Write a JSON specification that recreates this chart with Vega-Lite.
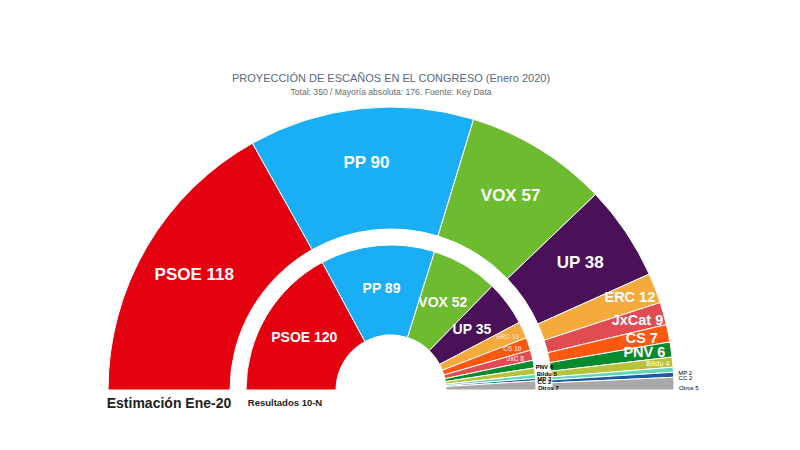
{
  "$schema": "https://vega.github.io/schema/vega-lite/v6.json",
  "width": 782,
  "height": 120,
  "autosize": "none",
  "padding": {"left": 0, "right": 18, "top": 330, "bottom": 0},
  "background": "white",
  "config": {"view": {"stroke": null}, "font": "Liberation Sans"},
  "title": {
    "text": "PROYECCIÓN DE ESCAÑOS EN EL CONGRESO (Enero 2020)",
    "subtitle": "Total: 350 / Mayoría absoluta: 176. Fuente: Key Data",
    "fontSize": 11,
    "fontWeight": "normal",
    "color": "#56697c",
    "subtitleFontSize": 8.6,
    "subtitleColor": "#6a6a6a",
    "subtitlePadding": 4,
    "anchor": "middle",
    "frame": "group",
    "offset": 8
  },
  "data": {
    "values": [
      {"ring": "outer", "idx": 1, "party": "PSOE", "name": "PSOE", "seats": 118},
      {"ring": "outer", "idx": 2, "party": "PP", "name": "PP", "seats": 90},
      {"ring": "outer", "idx": 3, "party": "VOX", "name": "VOX", "seats": 57},
      {"ring": "outer", "idx": 4, "party": "UP", "name": "UP", "seats": 38},
      {"ring": "outer", "idx": 5, "party": "ERC", "name": "ERC", "seats": 12},
      {"ring": "outer", "idx": 6, "party": "JxCat", "name": "JxCat", "seats": 9},
      {"ring": "outer", "idx": 7, "party": "CS", "name": "CS", "seats": 7},
      {"ring": "outer", "idx": 8, "party": "PNV", "name": "PNV", "seats": 6},
      {"ring": "outer", "idx": 9, "party": "Bildu", "name": "Bildu", "seats": 4},
      {"ring": "outer", "idx": 10, "party": "MP", "name": "MP", "seats": 2},
      {"ring": "outer", "idx": 11, "party": "CC", "name": "CC", "seats": 2},
      {"ring": "outer", "idx": 12, "party": "Otros", "name": "Otros", "seats": 5},
      {"ring": "inner", "idx": 1, "party": "PSOE", "name": "PSOE", "seats": 120},
      {"ring": "inner", "idx": 2, "party": "PP", "name": "PP", "seats": 89},
      {"ring": "inner", "idx": 3, "party": "VOX", "name": "VOX", "seats": 52},
      {"ring": "inner", "idx": 4, "party": "UP", "name": "UP", "seats": 35},
      {"ring": "inner", "idx": 5, "party": "ERC", "name": "ERC", "seats": 13},
      {"ring": "inner", "idx": 6, "party": "CS", "name": "CS", "seats": 10},
      {"ring": "inner", "idx": 7, "party": "JxCat", "name": "JxC", "seats": 8},
      {"ring": "inner", "idx": 8, "party": "PNV", "name": "PNV", "seats": 6},
      {"ring": "inner", "idx": 9, "party": "Bildu", "name": "Bildu", "seats": 5},
      {"ring": "inner", "idx": 10, "party": "MP", "name": "MP", "seats": 3},
      {"ring": "inner", "idx": 11, "party": "CC", "name": "CC", "seats": 2},
      {"ring": "inner", "idx": 12, "party": "Otros", "name": "Otros", "seats": 7}
    ]
  },
  "transform": [{"calculate": "datum.name + ' ' + datum.seats", "as": "label"}],
  "layer": [
    {
      "transform": [{"filter": "datum.ring == 'outer'"}],
      "mark": {"type": "arc", "radius": 283, "radius2": 161, "stroke": "white", "strokeWidth": 1},
      "encoding": {
        "theta": {"field": "seats", "type": "quantitative", "stack": true, "scale": {"domain": [0, 350], "range": [-1.5708, 1.5708]}},
        "order": {"field": "idx", "type": "quantitative"},
        "color": {"field": "party", "type": "nominal", "legend": null,
          "scale": {"domain": ["PSOE", "PP", "VOX", "UP", "ERC", "JxCat", "CS", "PNV", "Bildu", "MP", "CC", "Otros"],
                    "range": ["#e3000f", "#1aaef5", "#6dbb2f", "#4a1158", "#f6aa3c", "#e24b52", "#fb5810", "#0a8a2e", "#b8c33c", "#5fd8b8", "#1d5aa5", "#a9a9a9"]}}
      }
    },
    {
      "transform": [{"filter": "datum.ring == 'inner'"}],
      "mark": {"type": "arc", "radius": 145, "radius2": 55, "stroke": "white", "strokeWidth": 1},
      "encoding": {
        "theta": {"field": "seats", "type": "quantitative", "stack": true, "scale": {"domain": [0, 350], "range": [-1.5708, 1.5708]}},
        "order": {"field": "idx", "type": "quantitative"},
        "color": {"field": "party", "type": "nominal", "legend": null}
      }
    },
    {
      "transform": [{"filter": "datum.ring == 'outer'"}],
      "mark": {"type": "text", "radius": 228, "fontSize": 17, "fontWeight": "bold", "color": "white"},
      "encoding": {
        "theta": {"field": "seats", "type": "quantitative", "stack": true},
        "order": {"field": "idx", "type": "quantitative"},
        "text": {"condition": {"test": "datum.seats >= 13", "field": "label"}, "value": ""}
      }
    },
    {
      "transform": [{"filter": "datum.ring == 'outer'"}],
      "mark": {"type": "text", "radius": 256, "fontSize": 14.5, "fontWeight": "bold", "color": "white"},
      "encoding": {
        "theta": {"field": "seats", "type": "quantitative", "stack": true},
        "order": {"field": "idx", "type": "quantitative"},
        "text": {"condition": {"test": "datum.seats >= 6 && datum.seats < 13", "field": "label"}, "value": ""}
      }
    },
    {
      "transform": [{"filter": "datum.ring == 'outer'"}],
      "mark": {"type": "text", "radius": 268, "fontSize": 7, "fontWeight": "bold", "color": "#f3f0c0"},
      "encoding": {
        "theta": {"field": "seats", "type": "quantitative", "stack": true},
        "order": {"field": "idx", "type": "quantitative"},
        "text": {"condition": {"test": "datum.party == 'Bildu'", "field": "label"}, "value": ""}
      }
    },
    {
      "transform": [{"filter": "datum.ring == 'outer'"}],
      "mark": {"type": "text", "radius": 288, "fontSize": 6, "align": "left", "dy": 4, "color": "black"},
      "encoding": {
        "theta": {"field": "seats", "type": "quantitative", "stack": true},
        "order": {"field": "idx", "type": "quantitative"},
        "text": {"condition": {"test": "indexof(['MP','CC','Otros'], datum.party) >= 0", "field": "label"}, "value": ""}
      }
    },
    {
      "transform": [{"filter": "datum.ring == 'inner'"}],
      "mark": {"type": "text", "radius": 101, "fontSize": 14, "fontWeight": "bold", "color": "white"},
      "encoding": {
        "theta": {"field": "seats", "type": "quantitative", "stack": true},
        "order": {"field": "idx", "type": "quantitative"},
        "text": {"condition": {"test": "datum.seats >= 35", "field": "label"}, "value": ""}
      }
    },
    {
      "transform": [{"filter": "datum.ring == 'inner'"}],
      "mark": {"type": "text", "radius": 128, "fontSize": 6.5, "fontWeight": "bold", "color": "#f6d6c8"},
      "encoding": {
        "theta": {"field": "seats", "type": "quantitative", "stack": true},
        "order": {"field": "idx", "type": "quantitative"},
        "text": {"condition": {"test": "datum.seats >= 8 && datum.seats < 35", "field": "label"}, "value": ""}
      }
    },
    {
      "transform": [{"filter": "datum.ring == 'inner'"}],
      "mark": {"type": "text", "radius": 147, "fontSize": 6, "fontWeight": "bold", "align": "left", "dy": 3, "color": "black"},
      "encoding": {
        "theta": {"field": "seats", "type": "quantitative", "stack": true},
        "order": {"field": "idx", "type": "quantitative"},
        "text": {"condition": {"test": "datum.seats < 8", "field": "label"}, "value": ""}
      }
    },
    {
      "data": {"values": [{"label": "Estimación Ene-20", "pos": 0}]},
      "mark": {"type": "text", "radius": 222, "dy": 14, "fontSize": 14, "fontWeight": "bold", "color": "#222222"},
      "encoding": {
        "theta": {"field": "pos", "type": "quantitative", "stack": null},
        "text": {"field": "label"}
      }
    },
    {
      "data": {"values": [{"label": "Resultados 10-N", "pos": 0}]},
      "mark": {"type": "text", "radius": 106, "dy": 13, "fontSize": 9.5, "fontWeight": "bold", "color": "#222222"},
      "encoding": {
        "theta": {"field": "pos", "type": "quantitative", "stack": null},
        "text": {"field": "label"}
      }
    }
  ]
}
